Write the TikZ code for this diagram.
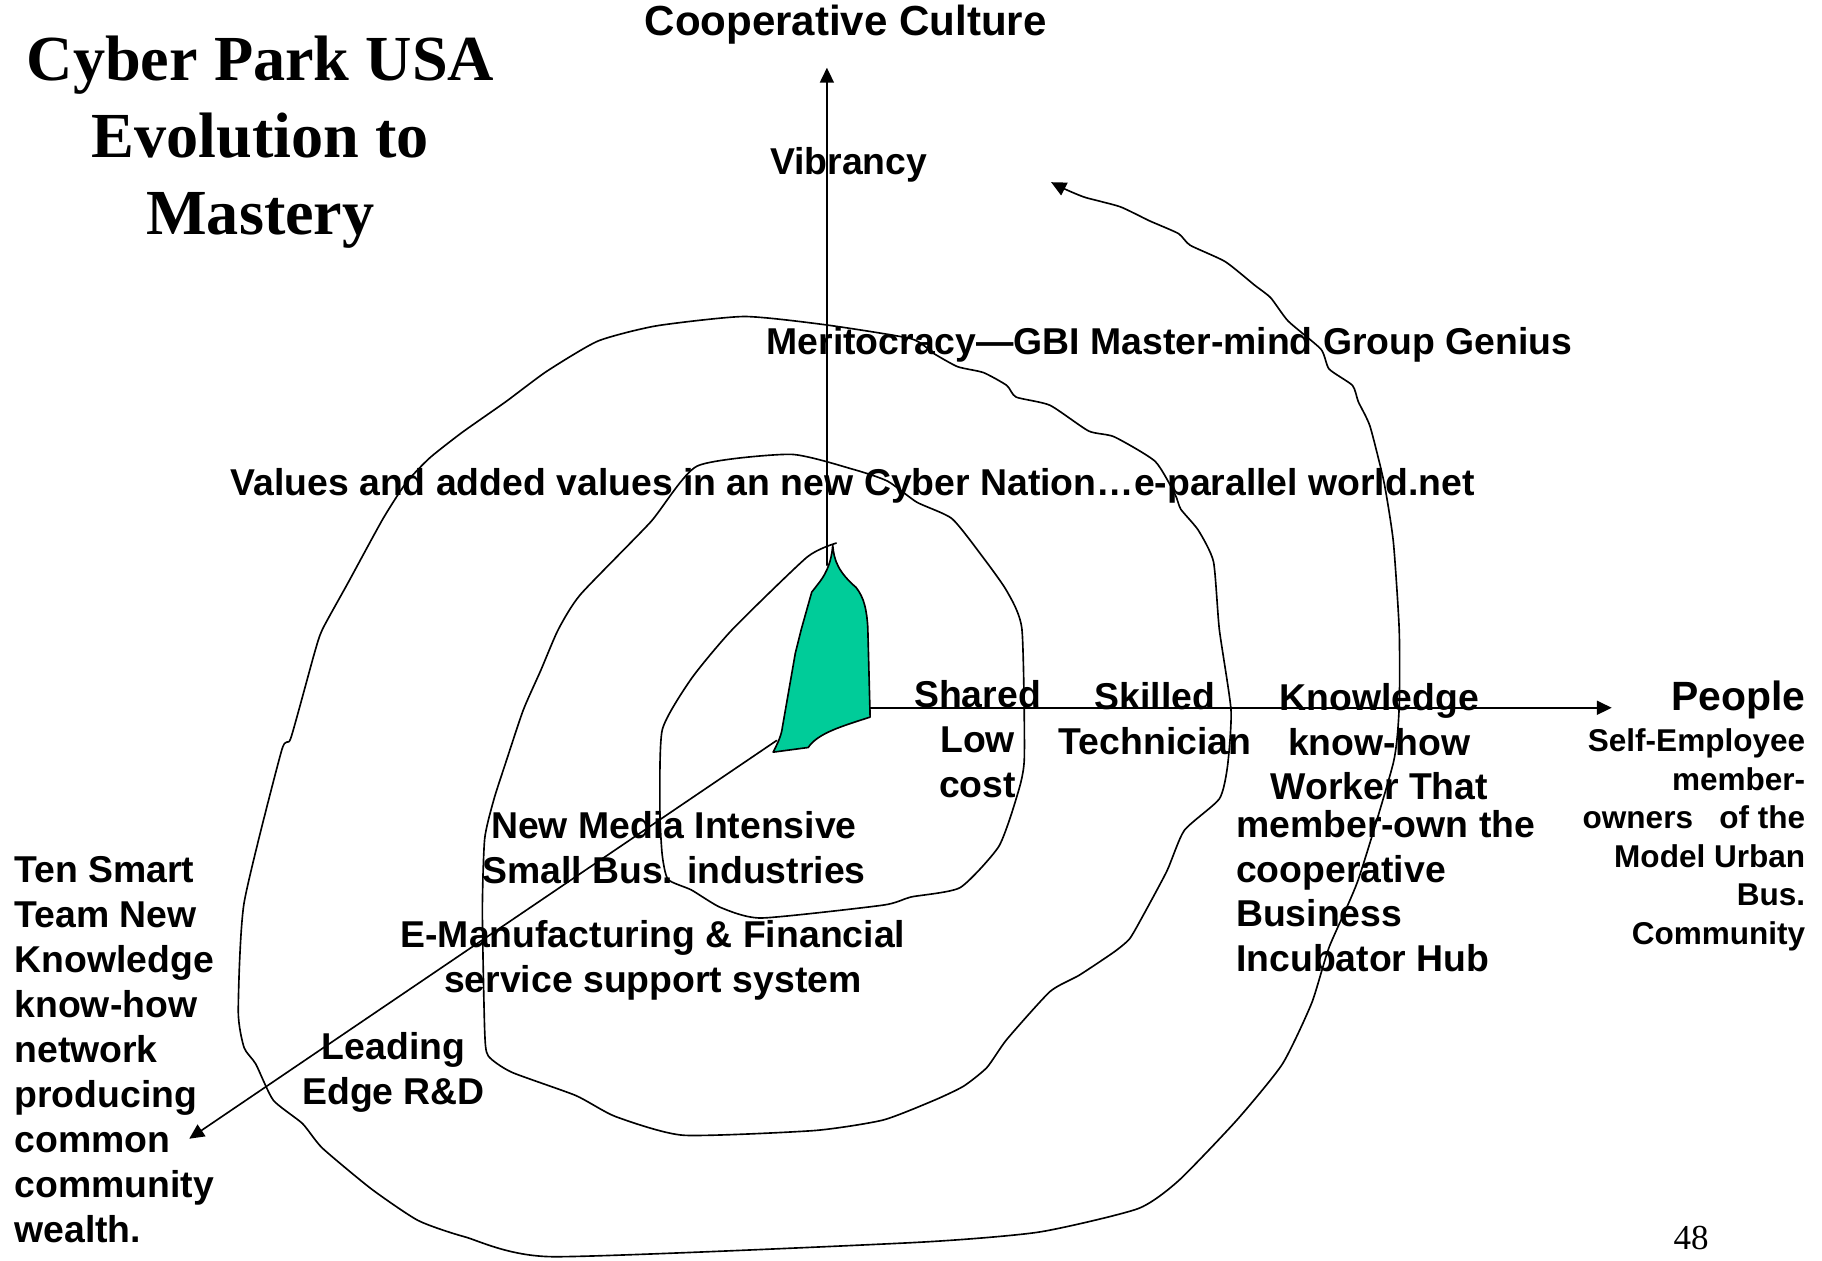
\documentclass[tikz,border=0pt]{standalone}
\usepackage{fontspec}
\setmainfont{Liberation Sans}
\newfontfamily\titlefont{Liberation Serif}
\usetikzlibrary{arrows.meta}
\definecolor{spikegreen}{RGB}{0,204,153}
\begin{document}
\begin{tikzpicture}[x=0.5pt,y=-0.5pt,>={Triangle[length=6.4pt,width=6pt]},line join=round,line cap=round,
	lab/.style={font=\fontsize{16pt}{19.25pt}\selectfont\bfseries,inner sep=0pt,align=center},
	side/.style={font=\fontsize{13.5pt}{16.5pt}\selectfont\bfseries,inner sep=0pt,align=right},
	curl/.style={line width=0.7pt}]
	\useasboundingbox (0,0) rectangle (1560,1079);
	\coordinate (tip) at (713,467);
	\coordinate (mast) at (708,484);
	\coordinate (rim) at (745,606);
	\coordinate (heel) at (665,634);
	\coordinate (up) at (708,58);
	\coordinate (right) at (1380,606);
	\coordinate (down) at (162,975);
	\filldraw[fill=spikegreen,curl] (tip) .. controls (714,480) and (718,490) .. (733,503) .. controls (740,512) and (742,522) .. (743,537) -- (745,614) .. controls (720,622) and (700,628) .. (692,640) -- (662,644) .. controls (666,636) and (669,630) .. (670,622) -- (681,559) -- (686,539) -- (695,507) -- (702,498) .. controls (708,490) and (712,480) .. (tip) -- cycle;
	\draw[->,curl] (mast) -- (up);
	\draw[->,curl] (rim) -- (right);
	\draw[->,curl] (heel) -- (down);
	\draw[->,curl] plot[smooth,tension=0.35] coordinates {(716,465) (691,477) (627,539) (592,581) (567,625) (565,694) (567,732) (572,753) (592,762) (617,777) (652,786) (756,775) (780,768) (822,760) (855,725) (870,684) (877,650) (875,539) (862,506) (840,475) (815,444) (785,430) (760,412) (731,402) (677,389) (597,399) (557,447) (497,509) (478,539) (463,574) (448,608) (433,653) (423,684) (415,718) (413,780) (415,883) (418,904) (438,918) (493,938) (527,956) (585,972) (697,968) (756,959) (800,942) (825,930) (845,914) (862,890) (899,849) (924,835) (954,815) (967,804) (977,787) (999,746) (1014,711) (1044,684) (1051,656) (1054,608) (1044,539) (1039,481) (1026,454) (1011,436) (1006,423) (989,395) (954,374) (932,369) (899,347) (870,340) (862,330) (842,319) (820,314) (800,303) (780,290) (706,278) (637,271) (562,279) (512,292) (468,318) (433,344) (396,370) (368,392) (348,413) (328,444) (298,499) (276,539) (269,560) (249,632) (241,643) (209,773) (204,866) (209,897) (219,911) (234,942) (259,962) (276,983) (318,1018) (358,1045) (398,1059) (473,1076) (780,1064) (889,1055) (974,1035) (1009,1011) (1059,959) (1098,911) (1123,859) (1138,811) (1163,753) (1193,653) (1198,605) (1198,539) (1193,464) (1185,413) (1173,365) (1163,344) (1158,330) (1138,316) (1131,299) (1103,275) (1088,255) (1074,244) (1049,224) (1019,210) (1009,200) (984,189) (959,177) (929,169) (912,162) (900,156)};
	\node[font=\titlefont\fontsize{27.5pt}{33pt}\selectfont\bfseries,align=center,inner sep=0pt] (title) at (223,122) {Cyber Park USA\\Evolution to\\Mastery};
	\node[lab,font=\fontsize{18pt}{21pt}\selectfont\bfseries] (culture) at (724,21) {Cooperative Culture};
	\node[lab,anchor=west] (vibrancy) at (659,141) {Vibrancy};
	\node[lab,anchor=west] (merit) at (656,295) {Meritocracy---GBI Master-mind Group Genius};
	\node[lab,anchor=west] (values) at (197,416) {Values and added values in an new Cyber Nation\ldots e-parallel world.net};
	\node[lab] (shared) at (837,633) {Shared\\Low\\cost};
	\node[lab] (skilled) at (989,615) {Skilled\\Technician};
	\node[lab] (knowhow) at (1181,635) {Knowledge\\know-how\\Worker That};
	\node[lab,align=left,anchor=west] (hub) at (1058,763) {member-own the\\cooperative\\Business\\Incubator Hub};
	\node[lab,font=\fontsize{17.5pt}{21pt}\selectfont\bfseries,anchor=east] (people) at (1546,599) {People};
	\node[side,anchor=east] (owners) at (1546,719) {Self-Employee\\member-\\owners \ \ of the\\Model Urban\\Bus.\\Community};
	\node[lab] (media) at (577,726) {New Media Intensive\\Small Bus. industries};
	\node[lab] (emanu) at (559,822) {E-Manufacturing \& Financial\\service support system};
	\node[lab] (leading) at (337,918) {Leading\\Edge R\&D};
	\node[lab,align=left,anchor=west] (smart) at (12,899) {Ten Smart\\Team New\\Knowledge\\know-how\\network\\producing\\common\\community\\wealth.};
	\node[font=\titlefont\fontsize{15pt}{18pt}\selectfont,inner sep=0pt] (page) at (1448,1060) {48};
\end{tikzpicture}
\end{document}
